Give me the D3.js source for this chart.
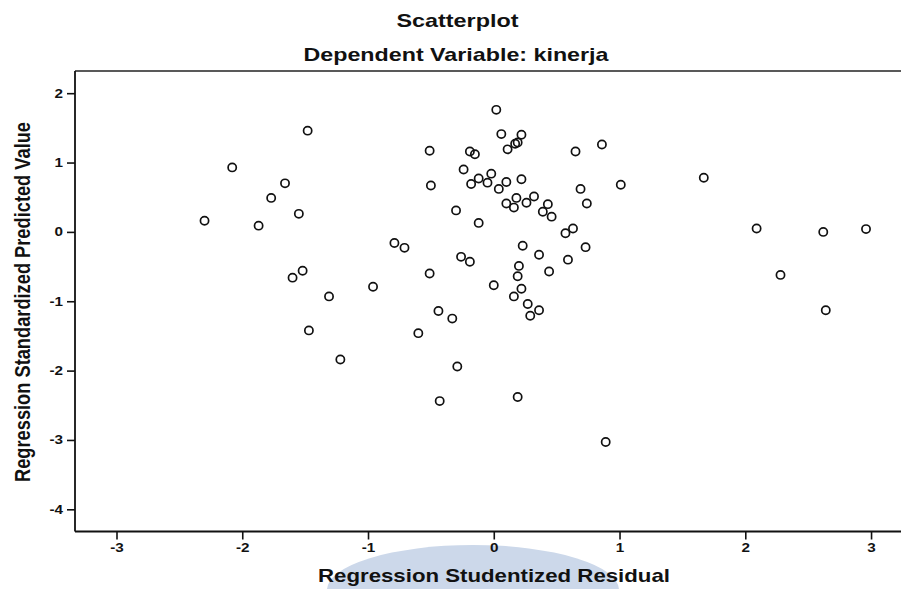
<!DOCTYPE html>
<html>
<head>
<meta charset="utf-8">
<script src="https://cdn.jsdelivr.net/npm/d3@7"></script>
<style>
  html, body { margin: 0; padding: 0; background: #fff; }
  svg { display: block; }
  text { font-family: "Liberation Sans", Arial, sans-serif; fill: #111; }
</style>
</head>
<body>
<svg id="chart" width="901" height="589"></svg>
<script>
// ---- Data ----
const chartTitle = "Scatterplot";
const chartSubtitle = "Dependent Variable: kinerja";
const xLabel = "Regression Studentized Residual";
const yLabel = "Regression Standardized Predicted Value";

const xTicks = [-3, -2, -1, 0, 1, 2, 3];
const yTicks = [-4, -3, -2, -1, 0, 1, 2];

// Regression Studentized Residual (x)
const residual = [
  -1.48,-2.08,-1.66,-1.77,-1.55,-2.30,-1.87,-1.52,-1.60,-1.31,
  -0.96,-1.47,-1.22,-0.71,-0.79,-0.51,-0.60,-0.44,-0.33,-0.29,
  -0.43, 0.19, 0.89,-0.26,-0.19, 0.00, 0.20, 0.19, 0.22, 0.16,
   0.27, 0.36, 0.29, 0.36, 0.23, 0.44, 0.59, 0.73, 0.63, 0.57,
   0.02, 0.06, 0.22, 0.19, 0.17, 0.11,-0.19,-0.15,-0.51, 0.65,
   0.86,-0.24,-0.02,-0.12,-0.18,-0.05, 0.10, 0.22, 0.04,-0.50,
   0.69, 1.01, 0.18, 0.32, 0.10, 0.26, 0.16, 0.43, 0.39, 0.46,
   0.74,-0.30,-0.12, 1.67, 2.09, 2.62, 2.96, 2.28, 2.64
];
// Regression Standardized Predicted Value (y)
const predicted = [
   1.46, 0.93, 0.70, 0.49, 0.26, 0.16, 0.09,-0.56,-0.66,-0.93,
  -0.79,-1.42,-1.84,-0.23,-0.16,-0.60,-1.46,-1.14,-1.25,-1.94,
  -2.44,-2.38,-3.03,-0.36,-0.43,-0.77,-0.49,-0.64,-0.82,-0.93,
  -1.04,-1.13,-1.21,-0.33,-0.20,-0.57,-0.40,-0.22, 0.05,-0.02,
   1.76, 1.41, 1.40, 1.29, 1.27, 1.19, 1.16, 1.12, 1.17, 1.16,
   1.26, 0.90, 0.84, 0.77, 0.69, 0.71, 0.72, 0.76, 0.62, 0.67,
   0.62, 0.68, 0.49, 0.51, 0.41, 0.42, 0.35, 0.40, 0.29, 0.22,
   0.41, 0.31, 0.13, 0.78, 0.05, 0.00, 0.04,-0.62,-1.13
];

// ---- Layout ----
const svg = d3.select("#chart");
const W = 901, H = 589;
const plot = { left: 75, right: 905, top: 71, bottom: 531.5 };
const stretch = 1.22; // horizontal stretch seen in the reference text

const x = d3.scaleLinear().domain([-3.33, 3.27]).range([plot.left, plot.right]);
const y = d3.scaleLinear().domain([-4.32, 2.32]).range([plot.bottom, plot.top]);

svg.append("rect").attr("width", W).attr("height", H).attr("fill", "#fff");

// faint watermark behind the x label
svg.append("ellipse")
  .attr("cx", 473).attr("cy", 590).attr("rx", 146).attr("ry", 45)
  .attr("fill", "#ccd8ea");

// top frame line
svg.append("line")
  .attr("x1", plot.left).attr("x2", W)
  .attr("y1", plot.top).attr("y2", plot.top)
  .attr("stroke", "#222").attr("stroke-width", 1.5);

// axes (plain hyphen for negatives, as in the reference)
const fmt = d => String(d);
const gx = svg.append("g")
  .attr("transform", `translate(0,${plot.bottom})`)
  .call(d3.axisBottom(x).tickValues(xTicks).tickSize(8).tickSizeOuter(0).tickPadding(4)
        .tickFormat(fmt));
const gy = svg.append("g")
  .attr("transform", `translate(${plot.left},0)`)
  .call(d3.axisLeft(y).tickValues(yTicks).tickSize(8).tickSizeOuter(0).tickPadding(4)
        .tickFormat(fmt));

[gx, gy].forEach(g => {
  g.select(".domain").attr("stroke", "#111").attr("stroke-width", 1.8);
  g.selectAll(".tick line").attr("stroke", "#111").attr("stroke-width", 1.6);
  g.selectAll(".tick text")
    .style("font-family", "Liberation Sans, Arial, sans-serif")
    .attr("font-size", 12.5)
    .attr("font-weight", "bold")
    .attr("fill", "#222")
    .each(function() {
      const len = this.getComputedTextLength();
      d3.select(this).attr("textLength", len * stretch).attr("lengthAdjust", "spacingAndGlyphs");
    });
});
// axis lines should span the whole plot edge
gx.select(".domain").attr("d", `M${plot.left},0H${W}`);
gy.select(".domain").attr("d", `M0,${plot.top}V${plot.bottom}`);

// points
svg.append("g")
  .selectAll("circle")
  .data(residual.map((r, i) => ({ r, p: predicted[i] })))
  .join("circle")
  .attr("cx", d => x(d.r))
  .attr("cy", d => y(d.p))
  .attr("r", 4.1)
  .attr("fill", "none")
  .attr("stroke", "#111")
  .attr("stroke-width", 1.7);

// titles
svg.append("text")
  .attr("x", 457.5).attr("y", 26.5)
  .attr("text-anchor", "middle")
  .attr("font-size", 19).attr("font-weight", "bold")
  .attr("textLength", 122).attr("lengthAdjust", "spacingAndGlyphs")
  .text(chartTitle);

svg.append("text")
  .attr("x", 456).attr("y", 61)
  .attr("text-anchor", "middle")
  .attr("font-size", 19).attr("font-weight", "bold")
  .attr("textLength", 305).attr("lengthAdjust", "spacingAndGlyphs")
  .text(chartSubtitle);

// x label
svg.append("text")
  .attr("x", 494).attr("y", 582)
  .attr("text-anchor", "middle")
  .attr("font-size", 18.5).attr("font-weight", "bold")
  .attr("textLength", 352).attr("lengthAdjust", "spacingAndGlyphs")
  .text(xLabel);

// y label
svg.append("text")
  .attr("transform", `translate(30,302) scale(${stretch},1) rotate(-90)`)
  .attr("text-anchor", "middle")
  .attr("font-size", 17.8).attr("font-weight", "bold")
  .attr("textLength", 360).attr("lengthAdjust", "spacingAndGlyphs")
  .text(yLabel);
</script>
</body>
</html>
